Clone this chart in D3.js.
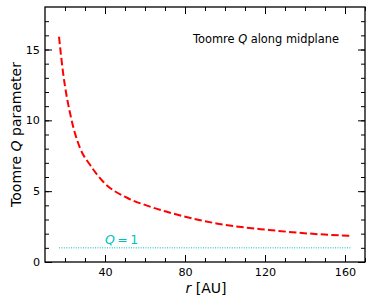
<!DOCTYPE html>
<html>
<head>
<meta charset="utf-8">
<script src="https://cdn.jsdelivr.net/npm/d3@7"></script>
<style>
  body { margin: 0; background: #fff; }
  text { font-family: "DejaVu Sans", sans-serif; fill: #000; }
</style>
</head>
<body>
<div id="chart"></div>
<script>
'use strict';

// Toomre Q along the midplane
var radius = [17, 19, 23, 27.5, 32.5, 39, 51.5, 60, 70.5, 87, 97, 122, 147, 163];
var toomreQ = [15.9, 13.4, 10.2, 8.05, 6.86, 5.68, 4.5, 4.03, 3.56, 2.97, 2.69, 2.26, 1.96, 1.84];
var criticalQ = 1;
var xMajorTicks = [40, 80, 120, 160];
var yMajorTicks = [0, 5, 10, 15];

var width = 374,
    height = 305,
    margin = {top: 7, right: 9, bottom: 43, left: 45},
    plotW = width - margin.left - margin.right,
    plotH = height - margin.top - margin.bottom;

var svg = d3.select('#chart').append('svg')
            .attr('width', width)
            .attr('height', height);

var g = svg.append('g')
           .attr('transform', 'translate(' + margin.left + ',' + margin.top + ')');

var x = d3.scaleLinear().domain([10, 170]).range([0, plotW]),
    y = d3.scaleLinear().domain([0, 18]).range([plotH, 0]);

var points = radius.map(function (r, i) { return [r, toomreQ[i]]; });

var line = d3.line()
             .x(function (d) { return x(d[0]); })
             .y(function (d) { return y(d[1]); })
             .curve(d3.curveMonotoneX);

// Q = 1 reference line
g.append('line')
 .attr('x1', x(radius[0]))
 .attr('x2', x(radius[radius.length - 1]))
 .attr('y1', y(criticalQ))
 .attr('y2', y(criticalQ))
 .attr('stroke', '#00bfbf')
 .attr('stroke-width', 1)
 .attr('stroke-dasharray', '1,1.4');

var qLabel = g.append('text')
              .attr('x', x(40))
              .attr('y', y(criticalQ) - 4)
              .attr('font-size', 12.5)
              .style('fill', '#00bfbf');
qLabel.append('tspan').attr('font-style', 'italic').text('Q');
qLabel.append('tspan').text('\u2009=\u20091');

g.append('path')
 .datum(points)
 .attr('d', line)
 .attr('fill', 'none')
 .attr('stroke', '#ff0000')
 .attr('stroke-width', 2)
 .attr('stroke-dasharray', '7.4,3.2');

// axes with inward ticks on all four sides
function tickAxis(axisFn, scale, major, minor, transform, labels, pad) {
    var minorG = g.append('g').attr('transform', transform)
                  .call(axisFn(scale).tickValues(minor).tickSize(-4).tickFormat(''));
    var majorG = g.append('g').attr('transform', transform)
                  .call(axisFn(scale).tickValues(major).tickSize(-7).tickPadding(pad)
                  .tickFormat(labels ? d3.format('d') : ''));
    [minorG, majorG].forEach(function (sel) {
        sel.select('.domain').remove();
        sel.selectAll('.tick line').attr('stroke', '#000').attr('stroke-width', 1);
        sel.selectAll('.tick text').attr('font-size', 11.2)
           .style('font-family', '"DejaVu Sans", sans-serif');
    });
}

var xMinor = d3.range(20, 171, 10),
    yMinor = d3.range(1, 18, 1);

tickAxis(d3.axisBottom, x, xMajorTicks, xMinor, 'translate(0,' + plotH + ')', true, 6);
tickAxis(d3.axisTop, x, xMajorTicks, xMinor, 'translate(0,0)', false, 6);
tickAxis(d3.axisLeft, y, yMajorTicks, yMinor, 'translate(0,0)', true, 5);
tickAxis(d3.axisRight, y, yMajorTicks, yMinor, 'translate(' + plotW + ',0)', false, 5);

g.append('rect')
 .attr('width', plotW)
 .attr('height', plotH)
 .attr('fill', 'none')
 .attr('stroke', '#000')
 .attr('stroke-width', 1.3);

// title inside the plot
var title = g.append('text')
             .attr('x', plotW - 26)
             .attr('y', 35.5)
             .attr('text-anchor', 'end')
             .attr('font-size', 11.4);
title.append('tspan').text('Toomre ');
title.append('tspan').attr('font-style', 'italic').text('Q');
title.append('tspan').text(' along midplane');

// axis labels
var xLabel = svg.append('text')
                .attr('x', margin.left + plotW / 2 + 1)
                .attr('y', height - 12)
                .attr('text-anchor', 'middle')
                .attr('font-size', 14);
xLabel.append('tspan').attr('font-style', 'italic').text('r');
xLabel.append('tspan').text(' [AU]');

var yLabel = svg.append('text')
                .attr('transform', 'translate(21,' + (margin.top + plotH / 2) + ') rotate(-90)')
                .attr('text-anchor', 'middle')
                .attr('font-size', 14);
yLabel.append('tspan').text('Toomre ');
yLabel.append('tspan').attr('font-style', 'italic').text('Q');
yLabel.append('tspan').text(' parameter');
</script>
</body>
</html>
